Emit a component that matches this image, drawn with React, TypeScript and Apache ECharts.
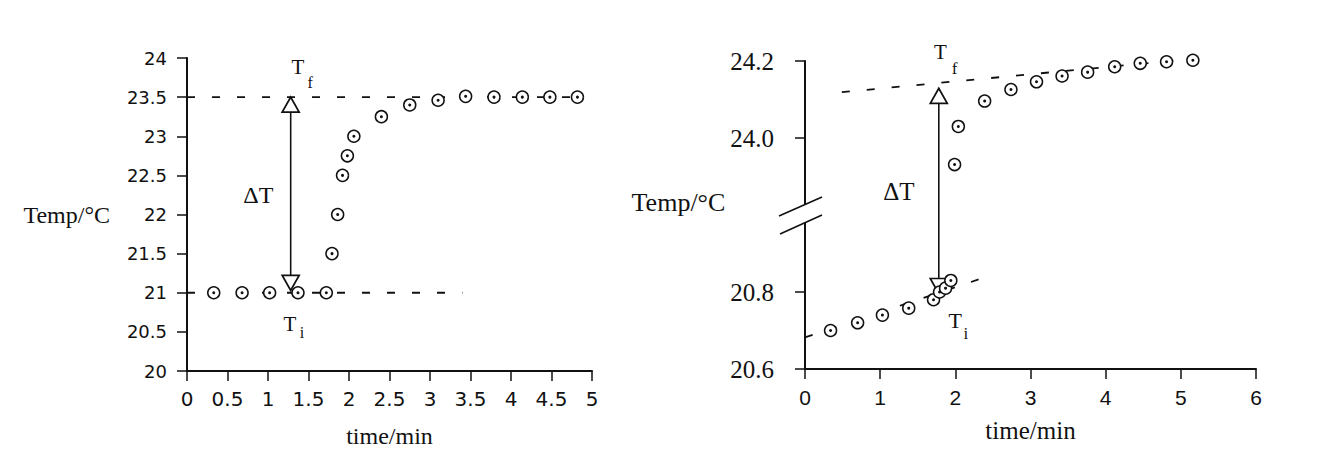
import React, { useEffect, useRef } from "react";
import * as echarts from "echarts";

// ---------------- Left panel data ----------------
const leftTime = [0.33, 0.68, 1.02, 1.37, 1.72, 1.79, 1.86, 1.92, 1.98, 2.06, 2.4, 2.75, 3.1, 3.44, 3.79, 4.14, 4.48, 4.82];
const leftTemp = [21.0, 21.0, 21.0, 21.0, 21.0, 21.5, 22.0, 22.5, 22.75, 23.0, 23.25, 23.4, 23.46, 23.51, 23.5, 23.5, 23.5, 23.5];
const leftInitialFitTime = [0, 3.4];
const leftInitialFitTemp = [21.0, 21.0];
const leftFinalFitTime = [0, 4.85];
const leftFinalFitTemp = [23.5, 23.5];
const leftArrowTime = [1.28, 1.28];
const leftArrowTemp = [21.03, 23.5];
const leftNoteText = ["T", "f", "ΔT", "T", "i"];
const leftNoteTime = [1.37, 1.52, 0.88, 1.27, 1.42];
const leftNoteTemp = [23.89, 23.69, 22.25, 20.607, 20.49];
const leftNoteSize = [21, 16, 24, 21, 16];

// ---------------- Right panel data ----------------
const rightTime = [0.34, 0.7, 1.03, 1.38, 1.71, 1.79, 1.87, 1.94, 1.99, 2.04, 2.39, 2.74, 3.08, 3.42, 3.76, 4.12, 4.46, 4.81, 5.16];
const rightTemp = [20.7, 20.72, 20.74, 20.758, 20.78, 20.8, 20.81, 20.83, 23.931, 24.03, 24.096, 24.126, 24.146, 24.161, 24.171, 24.185, 24.194, 24.198, 24.202];
const rightInitialFitTime = [0, 2.5];
const rightInitialFitTemp = [20.682, 20.845];
const rightFinalFitTime = [0.49, 5.45];
const rightFinalFitTemp = [24.119, 24.211];
const rightArrowTime = [1.78, 1.78];
const rightArrowTemp = [20.796, 24.129];
const rightYTickTemps = [20.6, 20.8, 24.0, 24.2];
const rightNoteText = ["T", "f", "ΔT", "T", "i"];
const rightNoteTime = [1.8, 1.99, 1.25, 2.0, 2.14];
const rightNoteTemp = [24.224, 24.18, 23.861, 20.726, 20.692];
const rightNoteSize = [21, 17, 25, 22, 17];

// broken temperature axis (20.6–21.0 and 23.8–24.2)
const LOWER_MIN = 20.6;
const LOWER_MAX = 21.0;
const UPPER_MIN = 23.8;
const SEG = LOWER_MAX - LOWER_MIN;
const toBroken = (T: number) => (T <= 22 ? T - LOWER_MIN : T - UPPER_MIN + SEG);
const fromBroken = (v: number) => (v <= SEG + 1e-9 ? v + LOWER_MIN : v - SEG + UPPER_MIN);

const INK = "#111";
const SERIF = "Liberation Serif";

const ident = (v: number) => v;

function panelSeries(
  idx: number,
  times: number[],
  temps: number[],
  fitA: [number[], number[]],
  fitB: [number[], number[]],
  arrow: [number[], number[]],
  notes: [string[], number[], number[], number[]],
  map: (v: number) => number
) {
  const pts = times.map((t, i) => [t, map(temps[i])]);
  const fit = (f: [number[], number[]]) => f[0].map((t, i) => [t, map(f[1][i])]);
  const base = { xAxisIndex: idx, yAxisIndex: idx, silent: true, clip: false, animation: false };
  return [
    {
      ...base,
      type: "line",
      data: fit(fitA),
      symbol: "none",
      lineStyle: { color: INK, width: 1.8, type: [8, 17] },
      z: 2,
    },
    {
      ...base,
      type: "line",
      data: fit(fitB),
      symbol: "none",
      lineStyle: { color: INK, width: 1.8, type: [8, 17] },
      z: 2,
    },
    {
      ...base,
      type: "line",
      data: arrow[0].map((t, i) => [t, map(arrow[1][i])]),
      symbol: "none",
      lineStyle: { color: INK, width: 1.6 },
      z: 3,
    },
    {
      ...base,
      type: "scatter",
      data: [
        { value: [arrow[0][1], map(arrow[1][1])], symbolRotate: 0, symbolOffset: [0, 7.5] },
        { value: [arrow[0][0], map(arrow[1][0])], symbolRotate: 180, symbolOffset: [0, -7.5] },
      ],
      symbol: "triangle",
      symbolSize: [17, 15],
      itemStyle: { color: "#fff", borderColor: INK, borderWidth: 1.7, opacity: 1 },
      z: 4,
    },
    {
      ...base,
      type: "scatter",
      data: pts,
      symbol: "circle",
      symbolSize: 12,
      itemStyle: { color: "#fff", borderColor: INK, borderWidth: 1.5, opacity: 1 },
      z: 5,
    },
    {
      ...base,
      type: "scatter",
      data: pts,
      symbol: "circle",
      symbolSize: 3,
      itemStyle: { color: INK, opacity: 1 },
      z: 6,
    },
    {
      ...base,
      type: "scatter",
      data: notes[0].map((txt, i) => ({
        value: [notes[1][i], map(notes[2][i])],
        label: {
          show: true,
          position: "inside",
          formatter: txt,
          fontSize: notes[3][i],
          fontFamily: SERIF,
          color: INK,
        },
      })),
      symbol: "circle",
      symbolSize: 1,
      itemStyle: { color: "rgba(0,0,0,0)", opacity: 1 },
      z: 7,
    },
  ];
}

export default function App() {
  const ref = useRef<HTMLDivElement>(null);
  useEffect(() => {
    if (!ref.current) return;
    const chart = echarts.init(ref.current, undefined, { renderer: "svg" });
    const axisLine = { show: true, lineStyle: { color: INK, width: 2 } };
    const axisTick = { show: true, length: 10, lineStyle: { color: INK, width: 1.5 } };

    const option: any = {
      animation: false,
      backgroundColor: "#fff",
      grid: [
        { left: 187, top: 58, width: 405, height: 313 },
        { left: 805, top: 61, width: 451, height: 308 },
      ],
      xAxis: [
        {
          gridIndex: 0,
          type: "value",
          min: 0,
          max: 5,
          interval: 0.5,
          splitLine: { show: false },
          axisLine,
          axisTick,
          axisLabel: { color: INK, fontFamily: "DejaVu Sans", fontSize: 20, margin: 18 },
          name: "time/min",
          nameLocation: "middle",
          nameGap: 53,
          nameTextStyle: { color: INK, fontFamily: SERIF, fontSize: 24 },
        },
        {
          gridIndex: 1,
          type: "value",
          min: 0,
          max: 6,
          interval: 1,
          splitLine: { show: false },
          axisLine,
          axisTick,
          axisLabel: { color: INK, fontFamily: "Liberation Sans", fontSize: 21, margin: 18 },
          name: "time/min",
          nameLocation: "middle",
          nameGap: 49,
          nameTextStyle: { color: INK, fontFamily: SERIF, fontSize: 25 },
        },
      ],
      yAxis: [
        {
          gridIndex: 0,
          type: "value",
          min: 20,
          max: 24,
          interval: 0.5,
          splitLine: { show: false },
          axisLine,
          axisTick,
          axisLabel: { color: INK, fontFamily: "DejaVu Sans", fontSize: 18, margin: 20 },
          name: "Temp/°C",
          nameLocation: "middle",
          nameRotate: 0,
          nameGap: 77,
          nameTextStyle: { color: INK, fontFamily: SERIF, fontSize: 24 },
        },
        {
          gridIndex: 1,
          type: "value",
          min: 0,
          max: 0.8,
          interval: 0.2,
          splitLine: { show: false },
          axisLine,
          axisTick: { ...axisTick, customValues: rightYTickTemps.map(toBroken) },
          axisLabel: {
            color: INK,
            fontFamily: SERIF,
            fontSize: 25,
            margin: 31,
            customValues: rightYTickTemps.map(toBroken),
            formatter: (v: number) => fromBroken(v).toFixed(1),
          },
          name: "Temp/°C",
          nameLocation: "middle",
          nameRotate: 0,
          nameGap: 72,
          nameTextStyle: { color: INK, fontFamily: SERIF, fontSize: 26, verticalAlign: "bottom" },
        },
      ],
      series: [
        ...panelSeries(
          0,
          leftTime,
          leftTemp,
          [leftInitialFitTime, leftInitialFitTemp],
          [leftFinalFitTime, leftFinalFitTemp],
          [leftArrowTime, leftArrowTemp],
          [leftNoteText, leftNoteTime, leftNoteTemp, leftNoteSize],
          ident
        ),
        ...panelSeries(
          1,
          rightTime,
          rightTemp,
          [rightInitialFitTime, rightInitialFitTemp],
          [rightFinalFitTime, rightFinalFitTemp],
          [rightArrowTime, rightArrowTemp],
          [rightNoteText, rightNoteTime, rightNoteTemp, rightNoteSize],
          toBroken
        ),
      ],
    };
    chart.setOption(option);

    // axis-break marks on the right temperature axis, placed from the axis scale
    const p = chart.convertToPixel({ xAxisIndex: 1, yAxisIndex: 1 }, [0, SEG]) as number[];
    if (p && isFinite(p[0]) && isFinite(p[1])) {
      const [bx, by] = p;
      chart.setOption({
        graphic: [
          {
            type: "rect",
            shape: { x: bx - 4, y: by - 11, width: 8, height: 19 },
            style: { fill: "#fff" },
            z: 100,
            silent: true,
          },
          {
            type: "line",
            shape: { x1: bx - 26, y1: by + 1, x2: bx + 17, y2: by - 18 },
            style: { stroke: INK, lineWidth: 1.6 },
            z: 101,
            silent: true,
          },
          {
            type: "line",
            shape: { x1: bx - 25, y1: by + 19, x2: bx + 17, y2: by },
            style: { stroke: INK, lineWidth: 1.6 },
            z: 101,
            silent: true,
          },
        ],
      });
    }
    return () => chart.dispose();
  }, []);
  return (
    <div
      ref={ref}
      style={{ position: "absolute", left: 0, top: 0, width: 1334, height: 462, background: "#fff" }}
    />
  );
}
